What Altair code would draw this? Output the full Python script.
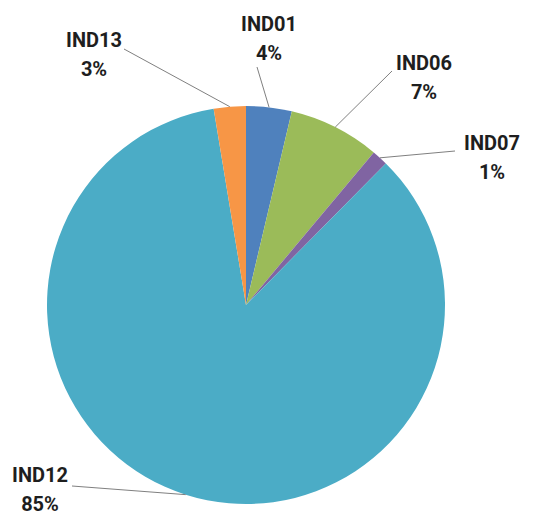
import altair as alt
import pandas as pd

# ---- data ----
categories = ["IND01", "IND06", "IND07", "IND12", "IND13"]
shares = [3.7, 7.4, 1.3, 85.0, 2.6]
colors = ["#4F81BD", "#9BBB59", "#8064A2", "#4BACC6", "#F79646"]

# ---- layout (annotation placement, relative to pie centre, px) ----
CX, CY, R = 238, 297, 199
# position of the first text line of each label
label_offset = {"IND01": (23, -280), "IND06": (178, -241), "IND07": (246, -161),
                "IND12": (-206, 171), "IND13": (-152, -264)}
leader_start = {"IND01": (11, -238), "IND06": (146, -234), "IND07": (209, -154),
                "IND12": (-174, 181), "IND13": (-122, -256)}

df = pd.DataFrame({
    "category": categories,
    "share": shares,
    "idx": list(range(len(categories))),
})
df["txt"] = [f"{c}\n{round(v)}%" for c, v in zip(categories, shares)]
df["tdx"] = [label_offset[c][0] for c in categories]
df["tdy"] = [label_offset[c][1] for c in categories]
df["ldx"] = [leader_start[c][0] for c in categories]
df["ldy"] = [leader_start[c][1] for c in categories]

base = alt.Chart(df)

pie = base.mark_arc(radius=R, strokeWidth=0).encode(
    theta=alt.Theta("share:Q", stack=True),
    order=alt.Order("idx:Q"),
    color=alt.Color("category:N", scale=alt.Scale(domain=categories, range=colors), legend=None),
    x=alt.value(CX),
    y=alt.value(CY),
)

geo = base.transform_joinaggregate(
    total="sum(share)"
).transform_window(
    cum="sum(share)", sort=[alt.SortField("idx")], frame=[None, 0]
).transform_calculate(
    mid="2*PI*(datum.cum - datum.share/2)/datum.total",
).transform_calculate(
    ax=f"{CX} + {R}*sin(datum.mid)",
    ay=f"{CY} - {R}*cos(datum.mid)",
    lx=f"{CX} + datum.ldx",
    ly=f"{CY} + datum.ldy",
    tx=f"{CX} + datum.tdx",
    ty=f"{CY} + datum.tdy",
)

leaders = geo.mark_rule(color="#808080", strokeWidth=1).encode(
    x=alt.X("lx:Q", scale=None, axis=None),
    y=alt.Y("ly:Q", scale=None, axis=None),
    x2="ax:Q",
    y2="ay:Q",
)

labels = geo.mark_text(
    lineBreak="\n", align="center", baseline="middle",
    font="Roboto", fontSize=20, fontWeight="bold", lineHeight=29, color="#1e1e1e",
).encode(
    x=alt.X("tx:Q", scale=None, axis=None),
    y=alt.Y("ty:Q", scale=None, axis=None),
    text="txt:N",
)

chart = alt.layer(pie, leaders, labels).properties(
    width=532, height=508, padding=0, background="white"
).configure_view(stroke=None)

chart.save("out.html", embed_options={"renderer": "svg", "actions": False})
